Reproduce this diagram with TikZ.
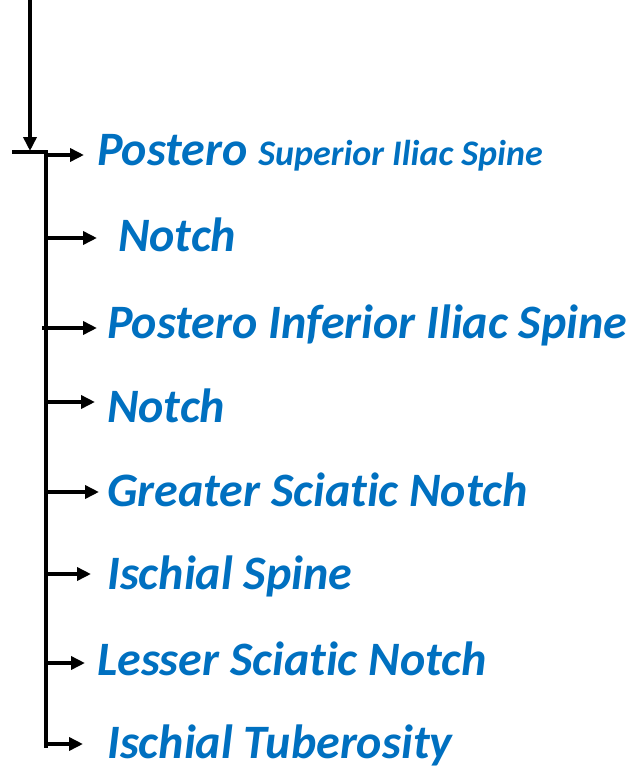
\documentclass[tikz,border=0pt]{standalone}
\usepackage{fontspec}
\setmainfont{Carlito}[Ligatures=NoCommon]
\usetikzlibrary{arrows.meta}
\definecolor{lblue}{HTML}{0070C0}
\tikzset{
  line/.style={line width=3.5bp, black},
  arr/.style={line width=3.5bp, black, -{Triangle[length=14bp,width=13bp]}},
  lbl/.style={anchor=base west, inner sep=0pt, text=lblue, font=\fontsize{48bp}{52bp}\selectfont\bfseries\itshape},
}
\begin{document}
\begin{tikzpicture}[x=1bp,y=-1bp]
\useasboundingbox (0,0) rectangle (633,767);
% labels
\node[lbl] (l1) at (97,165) {Postero {\fontsize{36bp}{40bp}\selectfont Superior Iliac Spine}};
\node[lbl] (l2) at (118,251) {Notch};
\node[lbl] (l3) at (107,338) {Postero Inferior Iliac Spine};
\node[lbl] (l4) at (107,422) {Notch};
\node[lbl] (l5) at (107,506) {Greater Sciatic Notch};
\node[lbl] (l6) at (107,589) {Ischial Spine};
\node[lbl] (l7) at (97,675) {Lesser Sciatic Notch};
\node[lbl] (l8) at (107,758) {Ischial Tuberosity};
% structure
\coordinate (top) at (30,0);
\coordinate (join) at (30,151);
\coordinate (barL) at (12,152);
\coordinate (barR) at (47,152);
\coordinate (trT) at (46,152);
\coordinate (trB) at (46,746);
\draw[arr] (top) -- (join);
\draw[line] (barL) -- (barR);
\draw[line, line cap=rect] (trT) -- (trB);
% branches
\coordinate (b1) at (46,155); \coordinate (e1) at (84,155);
\coordinate (b2) at (46,238); \coordinate (e2) at (97,238);
\coordinate (b3) at (42,328); \coordinate (e3) at (97,328);
\coordinate (b4) at (46,402); \coordinate (e4) at (95,402);
\coordinate (b5) at (46,492); \coordinate (e5) at (99,492);
\coordinate (b6) at (46,574); \coordinate (e6) at (91,574);
\coordinate (b7) at (46,663); \coordinate (e7) at (85,663);
\coordinate (b8) at (46,744); \coordinate (e8) at (83,744);
\foreach \i in {1,...,8} \draw[arr] (b\i) -- (e\i);
\end{tikzpicture}
\end{document}
